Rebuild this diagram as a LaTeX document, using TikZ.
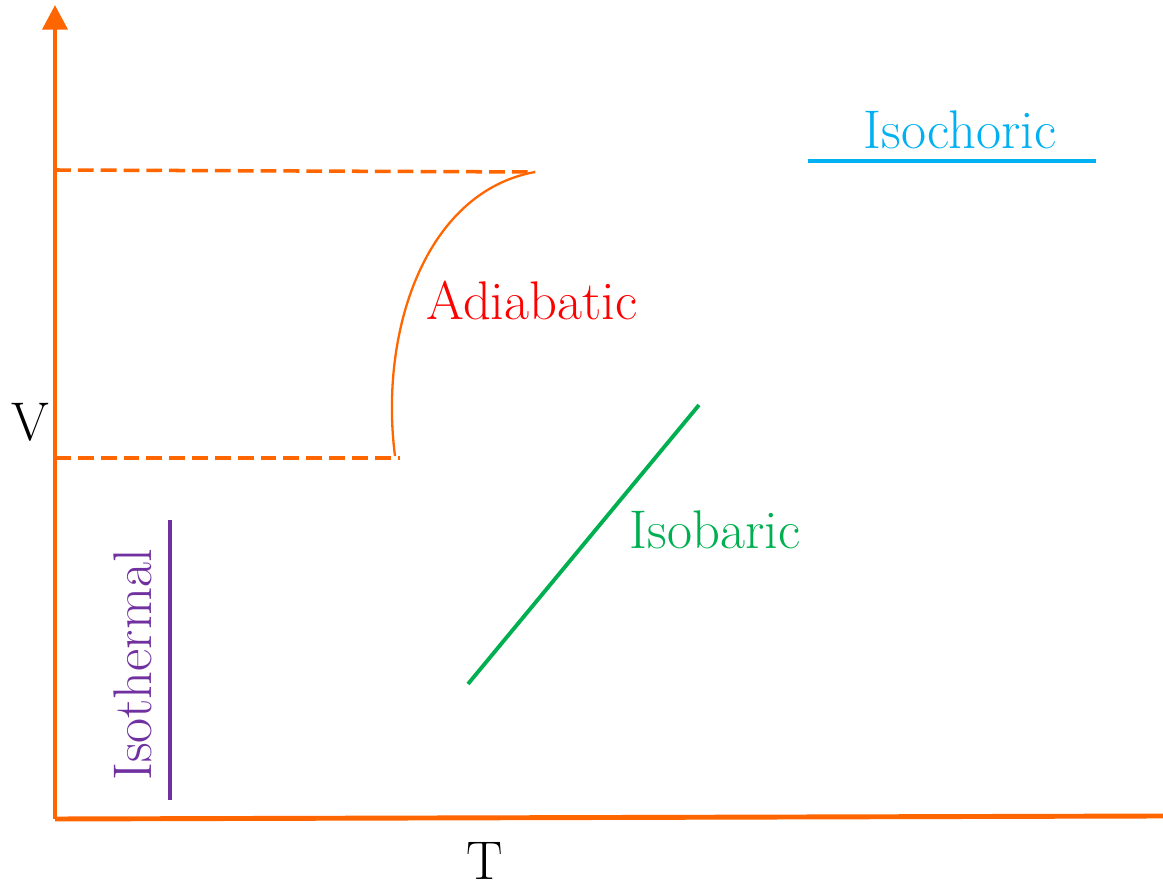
\documentclass[tikz,border=0pt]{standalone}
\usepackage{xcolor}
\usetikzlibrary{arrows.meta}
\definecolor{axisorange}{HTML}{FF6600}
\definecolor{chorblue}{HTML}{00B0F0}
\definecolor{bargreen}{HTML}{00B050}
\definecolor{thermpurple}{HTML}{7030A0}

\begin{document}
\begin{tikzpicture}[
  axis/.style={draw=axisorange, line width=2.8pt},
  guide/.style={draw=axisorange, line width=2pt, dash pattern=on 9pt off 4pt},
  procline/.style={line width=2.2pt},
  lbl/.style={font=\fontsize{31}{37}\selectfont}]
  \useasboundingbox (0,0) rectangle (23.26,17.84);
  % axes
  \coordinate (o) at (1.10,1.46);
  \coordinate (vtop) at (1.10,17.74);
  \coordinate (tend) at (23.26,1.52);
  \draw[axis, -{Triangle[length=14pt, width=14pt]}] (o) -- (vtop);
  \draw[axis] (o) -- (tend);
  \node[lbl] (vlab) at (0.60,9.40) {V};
  \node[lbl, anchor=base, inner sep=0pt] (tlab) at (9.70,0.24) {T};
  % adiabatic curve and guides
  \coordinate (adlow) at (7.90,8.72);
  \coordinate (adtop) at (10.70,14.40);
  \coordinate (guplow) at (1.10,14.44);
  \coordinate (gdnlow) at (1.10,8.68);
  \draw[guide] (guplow) -- (adtop);
  \draw[guide] (gdnlow) -- (8.00,8.68);
  \draw[axisorange, line width=1.3pt] (adlow) .. controls (7.58,11.20) and (8.50,14.00) .. (adtop);
  \node[lbl, text=red] (adlab) at (10.64,11.84) {Adiabatic};
  % isochoric
  \coordinate (cha) at (16.16,14.62);
  \coordinate (chb) at (21.92,14.62);
  \draw[procline, chorblue] (cha) -- (chb);
  \node[lbl, text=chorblue] (chlab) at (19.20,15.24) {Isochoric};
  % isobaric
  \coordinate (bara) at (9.36,4.16);
  \coordinate (barb) at (13.98,9.74);
  \draw[procline, bargreen] (bara) -- (barb);
  \node[lbl, text=bargreen] (barlab) at (14.30,7.24) {Isobaric};
  % isothermal
  \coordinate (tha) at (3.40,7.44);
  \coordinate (thb) at (3.40,1.84);
  \draw[procline, thermpurple] (tha) -- (thb);
  \node[lbl, text=thermpurple, rotate=90] (thlab) at (2.66,4.54) {Isothermal};
\end{tikzpicture}
\end{document}
